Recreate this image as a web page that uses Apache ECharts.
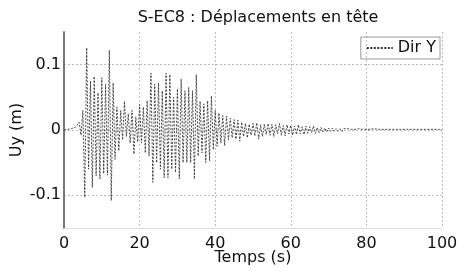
<!DOCTYPE html>
<html>
<head>
<meta charset="utf-8">
<script src="https://cdn.jsdelivr.net/npm/echarts@6/dist/echarts.min.js"></script>
<style>
  html, body { margin: 0; padding: 0; background: #fff; }
  #chart { width: 458px; height: 271px; }
</style>
</head>
<body>
<div id="chart"></div>
<script>
// pas de temps entre deux extrema (s)
var dt = 0.5;
var xTicks = [0, 20, 40, 60, 80, 100];
var yTicks = [-0.1, 0, 0.1];

// Uy (m), un extremum tous les dt secondes, de 0 a 100 s
var uy = [
  0, 0, 0.001, 0, 0.002, -0.001, 0.004, 0.006, 0.012, -0.008,            // 0-4.5
  0.03, -0.103, 0.126, -0.06, 0.075, -0.088, 0.082, -0.07, 0.057, -0.075, // 5-9.5
  0.08, -0.067, 0.07, -0.069, 0.122, -0.108, 0.072, -0.045, 0.035, -0.032, // 10-14.5
  0.03, -0.015, 0.044, -0.01, 0.025, -0.02, 0.03, -0.037, 0.02, -0.018,   // 15-19.5
  0.039, -0.02, 0.035, -0.035, 0.045, -0.04, 0.087, -0.08, 0.07, -0.05,   // 20-24.5
  0.072, -0.06, 0.06, -0.073, 0.087, -0.073, 0.085, -0.06, 0.05, -0.065,  // 25-29.5
  0.063, -0.075, 0.078, -0.05, 0.06, -0.05, 0.065, -0.05, 0.06, -0.075,   // 30-34.5
  0.085, -0.04, 0.044, -0.035, 0.04, -0.05, 0.045, -0.047, 0.052, -0.03,  // 35-39.5
  0.03, -0.025, 0.026, -0.02, 0.022, -0.024, 0.021, -0.015, 0.018, -0.012, // 40-44.5
  0.016, -0.014, 0.015, -0.017, 0.012, -0.01, 0.01, -0.012, 0.009, -0.008, // 45-49.5
  0.01, -0.009, 0.011, -0.014, 0.008, -0.01, 0.009, -0.007, 0.01, -0.008,  // 50-54.5
  0.009, -0.01, 0.008, -0.006, 0.01, -0.008, 0.007, -0.009, 0.008, -0.006, // 55-59.5
  0.007, -0.008, 0.006, -0.007, 0.008, -0.006, 0.005, -0.007, 0.006, -0.005, // 60-64.5
  0.005, -0.004, 0.006, -0.005, 0.004, -0.004, 0.004, -0.003, 0.003, -0.003, // 65-69.5
  0.003, -0.002, 0.003, -0.002, 0.002, -0.002, 0.002, -0.002, 0.002, -0.001, // 70-74.5
  0.002, -0.001, 0.001, -0.002, 0.001, -0.001, 0.002, -0.001, 0.001, -0.001, // 75-79.5
  0.001, -0.001, 0.001, -0.001, 0.002, -0.001, 0.001, -0.001, 0.001, -0.001, // 80-84.5
  0.001, -0.001, 0.001, -0.001, 0.001, -0.001, 0.001, -0.001, 0.001, -0.001, // 85-89.5
  0.001, -0.001, 0.001, -0.001, 0.001, -0.001, 0.001, -0.001, 0.001, -0.001, // 90-94.5
  0.001, -0.001, 0.001, -0.001, 0.001, -0.001, 0.001, -0.001, 0.001, -0.001, // 95-99.5
  0                                                                          // 100
];

var pts = uy.map(function (v, i) { return [i * dt, v]; });

var font = 'DejaVu Sans';
var chart = echarts.init(document.getElementById('chart'));
chart.setOption({
  animation: false,
  backgroundColor: '#fff',
  title: {
    text: 'S-EC8 : Déplacements en tête',
    left: 253, top: 5, textAlign: 'center',
    textStyle: { fontFamily: font, fontSize: 16, fontWeight: 'normal', color: '#111' }
  },
  legend: {
    right: 18, top: 37,
    data: ['Dir Y'],
    itemWidth: 26, itemHeight: 10, itemGap: 4,
    padding: [3, 4, 3, 5],
    borderColor: '#999', borderWidth: 1,
    itemStyle: { opacity: 0 },
    textStyle: { fontFamily: font, fontSize: 16, color: '#111' }
  },
  grid: { left: 64, right: 16, top: 32, bottom: 43, outerBoundsMode: 'none', containLabel: false },
  xAxis: {
    type: 'value', min: 0, max: 100, interval: 20,
    name: 'Temps (s)', nameLocation: 'middle', nameGap: 22, nameMoveOverlap: false,
    nameTextStyle: { fontFamily: font, fontSize: 16, color: '#111' },
    axisLine: { show: true, onZero: false, lineStyle: { color: '#ddd', width: 1 } },
    axisTick: { show: false },
    axisLabel: { fontFamily: font, fontSize: 16, color: '#111', margin: 8,
      formatter: function (v) { return xTicks.indexOf(v) >= 0 ? String(v) : ''; } },
    splitLine: { show: true, lineStyle: { color: ['transparent', '#bbb', '#bbb', '#bbb', '#bbb', '#bbb'], type: [2, 2], width: 1 } }
  },
  yAxis: {
    type: 'value', min: -0.15, max: 0.15, interval: 0.05,
    name: 'Uy (m)', nameLocation: 'middle', nameGap: 39, nameMoveOverlap: false,
    nameTextStyle: { fontFamily: font, fontSize: 16, color: '#111' },
    axisLine: { show: true, onZero: false, lineStyle: { color: '#777', width: 2 } },
    axisTick: { show: false },
    axisLabel: { fontFamily: font, fontSize: 16, color: '#111', margin: 3,
      formatter: function (v) {
        var r = Math.round(v * 100) / 100;
        for (var k = 0; k < yTicks.length; k++) {
          if (Math.abs(yTicks[k] - r) < 1e-9) return String(yTicks[k]);
        }
        return '';
      } },
    splitLine: { show: true, lineStyle: { color: ['transparent', '#bbb'], type: [2, 2], width: 1 } }
  },
  series: [{
    name: 'Dir Y',
    type: 'line',
    data: pts,
    symbol: 'none',
    lineStyle: { color: '#333', width: 0.9, type: [2, 1.5] },
    itemStyle: { color: '#333' }
  }]
});
</script>
</body>
</html>
